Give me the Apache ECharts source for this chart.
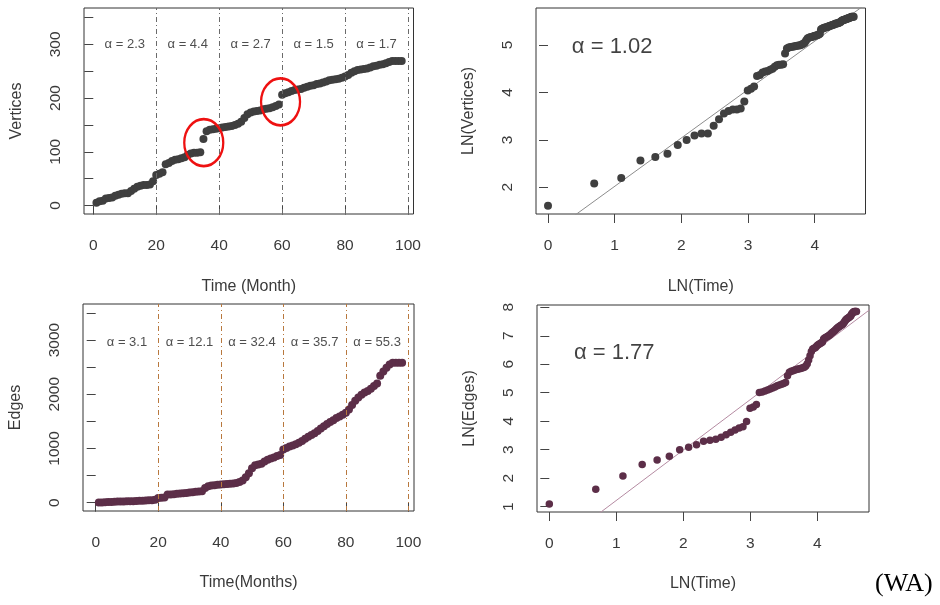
<!DOCTYPE html>
<html><head><meta charset="utf-8">
<script src="https://cdn.jsdelivr.net/npm/echarts@6/dist/echarts.min.js"></script>
<style>html,body{margin:0;padding:0;background:#fff}#c{width:940px;height:605px}</style>
</head><body><div id="c"></div>
<script>
// ---- data ----
const months = [1,2,3,4,5,6,7,8,9,10,11,12,13,14,15,16,17,18,19,20,21,22,23,24,25,26,27,28,29,30,31,32,33,34,35,36,37,38,39,40,41,42,43,44,45,46,47,48,49,50,51,52,53,54,55,56,57,58,59,60,61,62,63,64,65,66,67,68,69,70,71,72,73,74,75,76,77,78,79,80,81,82,83,84,85,86,87,88,89,90,91,92,93,94,95,96,97,98];
const vertices = [5,8,9,13,14,15,18,20,22,23,23,27,31,35,37,38,38,39,45,57,59,62,77,79,83,85,86,88,90,94,97,98,98,99,124,138,141,142,143,144,145,146,147,148,150,152,156,163,170,173,175,176,177,179,180,181,183,185,188,206,209,211,213,215,216,217,219,221,223,224,226,227,229,231,233,234,235,236,238,240,243,247,250,252,253,254,255,257,259,260,262,263,265,267,269,269,269,269];
const edges = [3,5,8,12,14,16,20,22,24,27,28,29,31,34,37,40,43,45,54,86,90,98,150,153,158,164,169,176,181,189,194,200,206,213,270,305,315,322,330,337,342,346,350,356,362,380,410,470,545,633,690,705,720,760,790,815,835,860,880,980,1010,1035,1055,1080,1105,1140,1180,1215,1250,1280,1320,1370,1410,1450,1490,1520,1560,1590,1620,1660,1720,1800,1880,1940,1990,2030,2060,2100,2150,2200,2340,2420,2490,2550,2580,2580,2580,2580];
const vertexAlphaLabels = ['α = 2.3','α = 4.4','α = 2.7','α = 1.5','α = 1.7'];
const edgeAlphaLabels = ['α = 3.1','α = 12.1','α = 32.4','α = 35.7','α = 55.3'];
const alphaLabelMonths = [10,30,50,70,90];
const vertexAlphaLabelY = 300;
const edgeAlphaLabelY = 2950;
const segmentBreaks = [20,40,60,80,100];
const jumpMonths = [35.1,59.5];
const jumpVertices = [117,193];
const vertexFitAlpha = 1.02, vertexFitIntercept = 1.0;
const edgeFitAlpha = 1.77, edgeFitIntercept = -0.55;
const vertexFitLabel = 'α = 1.02', edgeFitLabel = 'α = 1.77';
const vertexFitLabelPos = [0.35, 4.96];
const edgeFitLabelPos = [0.36, 6.38];
const timeTicks = [0,20,40,60,80,100];
const vertexTicks = [0,50,100,150,200,250,300,350];
const vertexTickLabels = [0,100,200,300];
const edgeTicks = [0,500,1000,1500,2000,2500,3000,3500];
const edgeTickLabels = [0,1000,2000,3000];
const lnTimeTicks = [0,1,2,3,4];
const lnVertexTicks = [2,3,4,5];
const lnEdgeTicks = [1,2,3,4,5,6,7,8];

// derived log values (same observations, log scale panels)
const lnTime = months.map(Math.log);
const lnVertices = vertices.map(Math.log);
const lnEdges = edges.map(Math.log);

// ---- style ----
const FONT = '"Liberation Sans", Arial, sans-serif';
const TXT = '#3a3a3a';
const PT_GRAY = '#3f3f3f';
const PT_MAROON = '#5c2e48';
const plain = v => String(v);

function xAx(gi, min, max, ticks, labels, name, nameGap) {
  return {
    type: 'value', gridIndex: gi, min, max, position: 'bottom',
    axisLine: {show: false},
    splitLine: {show: false},
    axisTick: {show: true, inside: false, length: 9, customValues: ticks, lineStyle: {color: '#444', width: 1}},
    axisLabel: {show: true, customValues: labels, formatter: plain, margin: 24, fontSize: 15.5, fontFamily: FONT, color: TXT},
    name, nameLocation: 'middle', nameGap,
    nameTextStyle: {fontSize: 16, fontFamily: FONT, color: TXT}
  };
}
function yAx(gi, min, max, ticks, labels, name, nameGap) {
  return {
    type: 'value', gridIndex: gi, min, max, position: 'left',
    axisLine: {show: false},
    splitLine: {show: false},
    axisTick: {show: true, inside: false, length: 9, customValues: ticks, lineStyle: {color: '#444', width: 1}},
    axisLabel: {show: true, customValues: labels, formatter: plain, rotate: 90, margin: 20, fontSize: 15.5, fontFamily: FONT, color: TXT},
    name, nameLocation: 'middle', nameGap,
    nameTextStyle: {fontSize: 16, fontFamily: FONT, color: TXT}
  };
}
function pairs(xs, ys) { return xs.map((x, i) => [x, ys[i]]); }
function breakLines(color) {
  return {
    silent: true, symbol: 'none', label: {show: false},
    lineStyle: {color, width: 1, type: [5, 3, 1, 3]},
    data: segmentBreaks.map(v => ({xAxis: v}))
  };
}
function alphaLabelSeries(gi, ys, labels, color) {
  return {
    type: 'scatter', xAxisIndex: gi, yAxisIndex: gi, symbol: 'circle', symbolSize: 1,
    itemStyle: {color: 'rgba(0,0,0,0)'}, silent: true, z: 5,
    label: {show: true, position: 'inside', formatter: p => p.name, fontSize: 13, fontFamily: FONT, color},
    data: alphaLabelMonths.map((m, i) => ({name: labels[i], value: [m, ys]}))
  };
}
function fitLine(gi, a, b, xmin, xmax, color) {
  return {
    type: 'line', xAxisIndex: gi, yAxisIndex: gi, symbol: 'none', silent: true, clip: true,
    lineStyle: {color, width: 1}, z: 1,
    data: [[xmin, b + a * xmin], [xmax, b + a * xmax]]
  };
}
function fitLabel(gi, pos, text) {
  return {
    type: 'scatter', xAxisIndex: gi, yAxisIndex: gi, symbol: 'circle', symbolSize: 1,
    itemStyle: {color: 'rgba(0,0,0,0)'}, silent: true, z: 5,
    label: {show: true, position: 'right', distance: 0, formatter: text, fontSize: 22, fontFamily: FONT, color: '#111'},
    data: [pos]
  };
}

const gridBase = {show: true, borderColor: '#333', borderWidth: 1, backgroundColor: 'transparent', containLabel: false};

const option = {
  animation: false,
  backgroundColor: '#fff',
  grid: [
    Object.assign({left: 84, top: 8, width: 329.5, height: 206}, gridBase),
    Object.assign({left: 536, top: 8, width: 329.5, height: 206}, gridBase),
    Object.assign({left: 83, top: 304, width: 331, height: 207}, gridBase),
    Object.assign({left: 537, top: 305, width: 332, height: 207}, gridBase)
  ],
  xAxis: [
    xAx(0, -2.955, 101.75, timeTicks, timeTicks, 'Time (Month)', 65),
    xAx(1, -0.18, 4.762, lnTimeTicks, lnTimeTicks, 'LN(Time)', 65),
    xAx(2, -4.06, 101.8, timeTicks, timeTicks, 'Time(Months)', 64),
    xAx(3, -0.184, 4.772, lnTimeTicks, lnTimeTicks, 'LN(Time)', 64)
  ],
  yAxis: [
    yAx(0, -15.8, 367.6, vertexTicks, vertexTickLabels, 'Vertices', 59),
    yAx(1, 1.437, 5.78, lnVertexTicks, lnVertexTicks, 'LN(Vertices)', 59),
    yAx(2, -153, 3664, edgeTicks, edgeTickLabels, 'Edges', 59),
    yAx(3, 0.814, 8.08, lnEdgeTicks, lnEdgeTicks, 'LN(Edges)', 59)
  ],
  series: [
    {
      type: 'scatter', xAxisIndex: 0, yAxisIndex: 0, symbolSize: 8,
      itemStyle: {color: PT_GRAY, opacity: 1}, data: pairs(months, vertices),
      markLine: breakLines('#6a6a6a')
    },
    alphaLabelSeries(0, vertexAlphaLabelY, vertexAlphaLabels, '#222'),
    {
      type: 'scatter', xAxisIndex: 0, yAxisIndex: 0, symbol: 'circle', symbolSize: [39, 47], z: 6, silent: true,
      itemStyle: {color: 'rgba(0,0,0,0)', borderColor: '#ee1111', borderWidth: 2.5, opacity: 1},
      data: pairs(jumpMonths, jumpVertices)
    },
    {
      type: 'scatter', xAxisIndex: 1, yAxisIndex: 1, symbolSize: 8,
      itemStyle: {color: PT_GRAY, opacity: 1}, data: pairs(lnTime, lnVertices), z: 3
    },
    fitLine(1, vertexFitAlpha, vertexFitIntercept, -1, 6, '#8c8c8c'),
    fitLabel(1, vertexFitLabelPos, vertexFitLabel),
    {
      type: 'scatter', xAxisIndex: 2, yAxisIndex: 2, symbolSize: 8,
      itemStyle: {color: PT_MAROON, opacity: 1}, data: pairs(months, edges),
      markLine: breakLines('#b8783e')
    },
    alphaLabelSeries(2, edgeAlphaLabelY, edgeAlphaLabels, '#222'),
    {
      type: 'scatter', xAxisIndex: 3, yAxisIndex: 3, symbolSize: 7.5,
      itemStyle: {color: PT_MAROON, opacity: 1}, data: pairs(lnTime, lnEdges), z: 3
    },
    fitLine(3, edgeFitAlpha, edgeFitIntercept, -1, 6, '#b58ba2'),
    fitLabel(3, edgeFitLabelPos, edgeFitLabel)
  ],
  graphic: [
    {type: 'text', left: 875, top: 571, style: {text: '(WA)', font: '26px "Liberation Serif", "Times New Roman", serif', fill: '#000'}}
  ]
};

const chart = echarts.init(document.getElementById('c'), null, {renderer: 'canvas'});
chart.setOption(option);
</script>
</body></html>
